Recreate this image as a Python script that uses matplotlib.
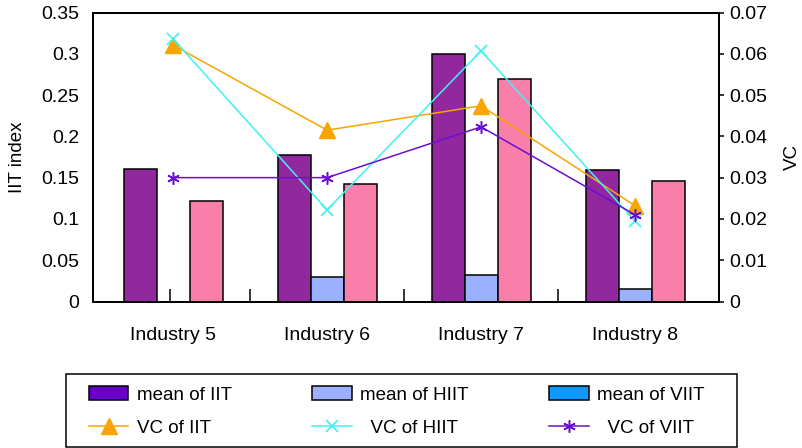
import numpy as np
import matplotlib
matplotlib.use("Agg")
import matplotlib.pyplot as plt
from matplotlib.patches import Patch, Rectangle
from matplotlib.lines import Line2D

plt.rcParams['font.family'] = ['Liberation Sans', 'DejaVu Sans']
plt.rcParams['font.size'] = 14

industries = ["Industry 5", "Industry 6", "Industry 7", "Industry 8"]

# mean intra-industry trade index (left axis)
mean_iit = [0.160, 0.177, 0.300, 0.159]
mean_hiit = [0.0, 0.030, 0.032, 0.015]
mean_viit = [0.122, 0.142, 0.270, 0.146]

# variation coefficients (right axis)
vc_iit = [0.0621, 0.0415, 0.0474, 0.0232]
vc_hiit = [0.0636, 0.0222, 0.0607, 0.0195]
vc_viit = [0.0300, 0.0300, 0.0423, 0.0210]

c_iit = "#92279f"
c_hiit = "#9bb0ff"
c_viit = "#f97faa"
c_line_iit = "#f7a600"
c_line_hiit = "#3ff2f2"
c_line_viit = "#6a0ed2"

fig = plt.figure(figsize=(8.03, 4.48), dpi=100)
ax = fig.add_axes([93/803, 1 - 301.5/448, 626/803, 289/448])

x = np.arange(len(industries))
w = 0.214
ax.bar(x - w, mean_iit, w, color=c_iit, edgecolor="black", linewidth=1.1)
ax.bar(x, mean_hiit, w, color=c_hiit, edgecolor="black", linewidth=1.1)
ax.bar(x + w, mean_viit, w, color=c_viit, edgecolor="black", linewidth=1.1)

ax.set_xlim(-0.52, 3.545)
ax.set_ylim(0, 0.35)
ax.set_yticks(np.arange(0, 0.351, 0.05))
ax.set_yticklabels(["%g" % round(v, 2) for v in np.arange(0, 0.351, 0.05)])
ax.tick_params(axis="y", length=0, pad=10)
ax.set_ylabel("IIT index", labelpad=11, fontsize=13.5)

# group separators on the bottom axis, names as minor tick labels
ax.set_xticks([-0.02, 0.5, 1.5, 2.5])
ax.set_xticklabels([])
ax.set_xticks(x, minor=True)
ax.set_xticklabels(industries, minor=True)
ax.tick_params(axis="x", which="major", direction="in", length=9.4, width=1.1)
ax.tick_params(axis="x", which="minor", length=0, pad=18)

ax2 = ax.twinx()
ax2.plot(x, vc_iit, color=c_line_iit, lw=1.1, marker="^", ms=11, label="VC of IIT")
ax2.plot(x, vc_hiit, color=c_line_hiit, lw=1.1, marker="x", ms=8, mew=1.2, label="VC of HIIT")
ax2.plot(x, vc_viit, color=c_line_viit, lw=1.1, marker=(6, 2, 0), ms=9, mew=1.1, label="VC of VIIT")
ax2.set_ylim(0, 0.07)
ax2.set_yticks(np.arange(0, 0.0701, 0.01))
ax2.set_yticklabels(["%g" % round(v, 2) for v in np.arange(0, 0.0701, 0.01)])
ax2.tick_params(axis="y", direction="out", length=3.6, width=1.1, pad=4)
ax2.set_ylabel("VC", labelpad=12, fontsize=13.5)

for a in (ax, ax2):
    for s in a.spines.values():
        s.set_linewidth(1.4)

handles = [
    Patch(facecolor="#6a00c8", edgecolor="black", linewidth=1.1),
    Line2D([], [], color=c_line_iit, lw=1.1, marker="^", ms=11),
    Patch(facecolor=c_hiit, edgecolor="black", linewidth=1.1),
    Line2D([], [], color=c_line_hiit, lw=1.1, marker="x", ms=8, mew=1.2),
    Patch(facecolor="#0d99ff", edgecolor="black", linewidth=1.1),
    Line2D([], [], color=c_line_viit, lw=1.1, marker=(6, 2, 0), ms=9, mew=1.1),
]
labels = ["mean of IIT", "VC of IIT", "mean of HIIT", "  VC of HIIT",
          "mean of VIIT", "  VC of VIIT"]
fig.legend(handles, labels, ncol=3, loc="upper left",
           bbox_to_anchor=(89/803, 1 - 386/448), frameon=False,
           fontsize=13.5, handlelength=2.1, handleheight=0.8,
           labelspacing=0.85, handletextpad=0.45, columnspacing=4.3,
           borderpad=0, borderaxespad=0)
fig.patches.append(Rectangle((66/803, 1/448), 671/803, 73/448, transform=fig.transFigure,
                             facecolor="none", edgecolor="black", linewidth=1.1))

fig.savefig("out.png", dpi=100)
